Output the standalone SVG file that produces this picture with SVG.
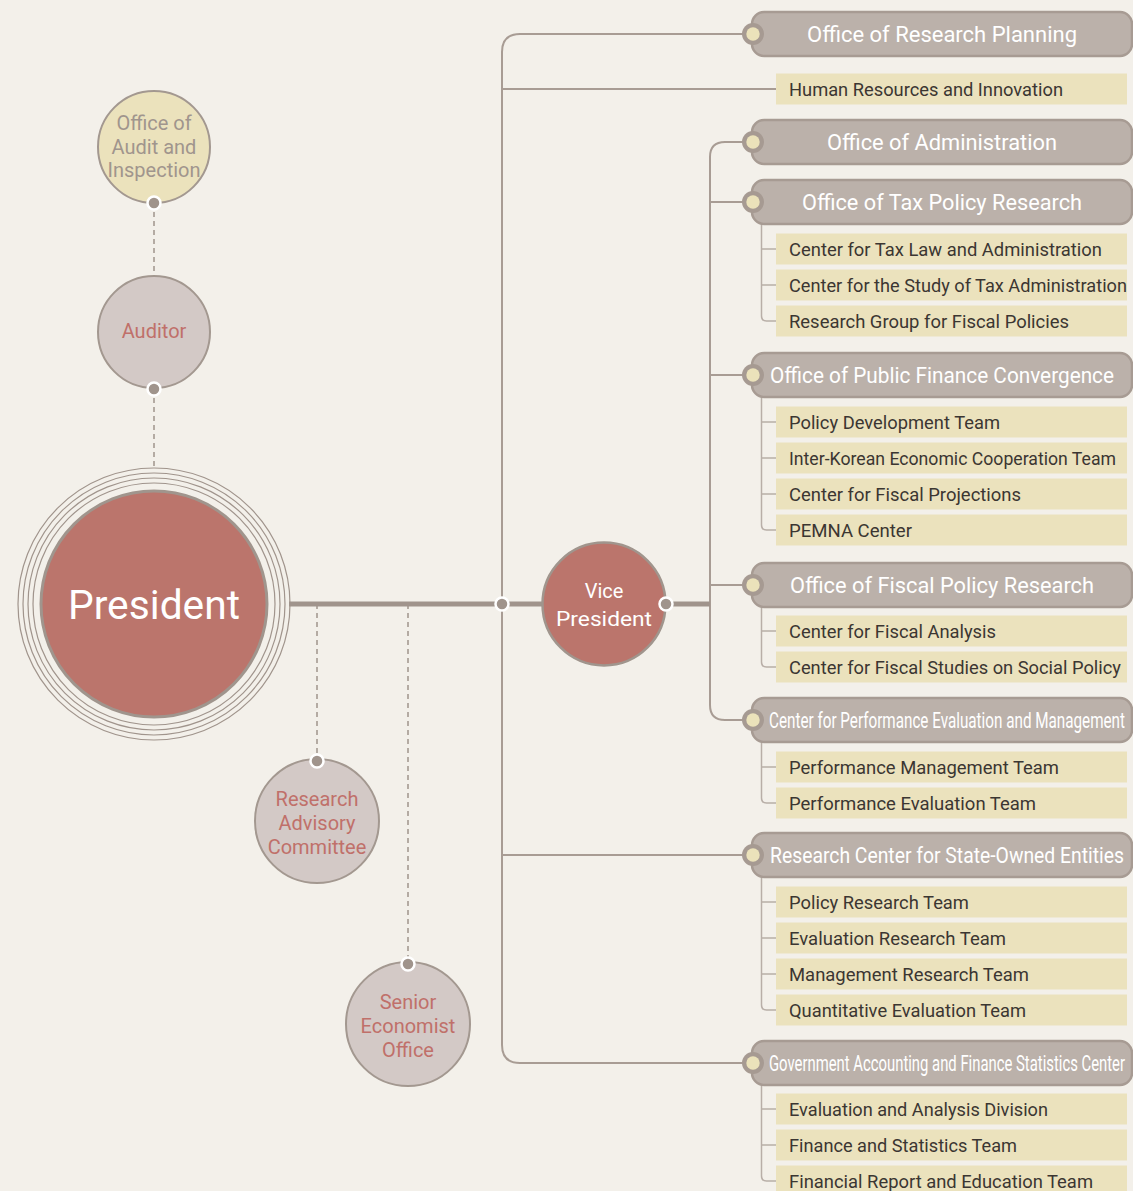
<svg xmlns="http://www.w3.org/2000/svg" width="1133" height="1191" viewBox="0 0 1133 1191">
<defs>
<style>
.bg{fill:#f3f0ea}
.hdr{fill:#bbb1aa;stroke:#a79b93;stroke-width:2.5}
.knobo{fill:#a69a92}
.knobi{fill:#ebe2ba}
.item{fill:#ebe2bd}
.ht{font-family:Roboto,"Noto Sans",sans-serif;font-size:22px;fill:#ffffff}
.it{font-family:Roboto,"Noto Sans",sans-serif;font-size:19px;fill:#3b3632}
.con{fill:none;stroke:#a89c94;stroke-width:2}
.sub{fill:none;stroke:#b8aea7;stroke-width:1.5}
.thick{fill:none;stroke:#a0948c;stroke-width:5}
.dash{fill:none;stroke:#a0948c;stroke-width:1.5;stroke-dasharray:5 4}
.dot{fill:#a0948c;stroke:#ffffff;stroke-width:2.5}
.ring{fill:none;stroke:#a0948c;stroke-width:1.2}
.ct{font-family:Roboto,"Noto Sans",sans-serif;font-size:20px;text-anchor:middle}
</style>
</defs>
<rect class="bg" x="0" y="0" width="1133" height="1191"/>

<g id="connectors">
<path class="dash" d="M154 203 V276"/>
<path class="dash" d="M154 389 V467"/>
<path class="dash" d="M317 604 V761"/>
<path class="dash" d="M408 604 V964"/>
<path class="con" d="M752 34 H520 Q502 34 502 52 V1045 Q502 1063 520 1063 H752"/>
<path class="con" d="M502 89 H776"/>
<path class="con" d="M502 855 H752"/>
<path class="con" d="M752 142 H725 Q710 142 710 157 V705 Q710 720 725 720 H752"/>
<path class="con" d="M710 202 H752"/>
<path class="con" d="M710 375 H752"/>
<path class="con" d="M710 585 H752"/>
<path class="thick" d="M289 604 H543"/>
<path class="thick" d="M666 604 H710"/>
<path class="sub" d="M761.5 224 V316 Q761.5 321 766.5 321 H776 M761.5 249 H776 M761.5 285 H776"/>
<path class="sub" d="M761.5 397 V525 Q761.5 530 766.5 530 H776 M761.5 422 H776 M761.5 458 H776 M761.5 494 H776"/>
<path class="sub" d="M761.5 607 V662 Q761.5 667 766.5 667 H776 M761.5 631 H776"/>
<path class="sub" d="M761.5 742 V798 Q761.5 803 766.5 803 H776 M761.5 767 H776"/>
<path class="sub" d="M761.5 877 V1005 Q761.5 1010 766.5 1010 H776 M761.5 902 H776 M761.5 938 H776 M761.5 974 H776"/>
<path class="sub" d="M761.5 1085 V1176 Q761.5 1181 766.5 1181 H776 M761.5 1109 H776 M761.5 1145 H776"/>
<circle class="dot" cx="502" cy="604" r="6.5"/>
</g>

<g id="president">
<circle class="ring" cx="154" cy="604" r="136"/>
<circle class="ring" cx="154" cy="604" r="131"/>
<circle class="ring" cx="154" cy="604" r="126"/>
<circle class="ring" cx="154" cy="604" r="121"/>
<circle cx="154" cy="604" r="113" fill="#bb756c" stroke="#a0958d" stroke-width="3"/>
<text x="154" y="619" font-family="Roboto,'Noto Sans',sans-serif" font-size="41" fill="#ffffff" text-anchor="middle" textLength="172" lengthAdjust="spacingAndGlyphs">President</text>
</g>

<g id="audit-office">
<circle cx="154" cy="147" r="56" fill="#ebe2bc" stroke="#a39890" stroke-width="2"/>
<text class="ct" fill="#a0958d"><tspan x="154" y="130">Office of</tspan><tspan x="154" y="154">Audit and</tspan><tspan x="154" y="177">Inspection</tspan></text>
<circle class="dot" cx="154" cy="203" r="6.5"/>
</g>

<g id="auditor">
<circle cx="154" cy="332" r="56" fill="#d3c9c6" stroke="#a39890" stroke-width="2"/>
<text class="ct" fill="#c0706a" x="154" y="338">Auditor</text>
<circle class="dot" cx="154" cy="389" r="6.5"/>
</g>

<g id="research-advisory">
<circle cx="317" cy="821" r="62" fill="#d3c9c6" stroke="#a39890" stroke-width="2"/>
<text class="ct" fill="#c0706a"><tspan x="317" y="806">Research</tspan><tspan x="317" y="830">Advisory</tspan><tspan x="317" y="854">Committee</tspan></text>
<circle class="dot" cx="317" cy="761" r="6.5"/>
</g>

<g id="senior-economist">
<circle cx="408" cy="1024" r="62" fill="#d3c9c6" stroke="#a39890" stroke-width="2"/>
<text class="ct" fill="#c0706a"><tspan x="408" y="1009">Senior</tspan><tspan x="408" y="1033">Economist</tspan><tspan x="408" y="1057">Office</tspan></text>
<circle class="dot" cx="408" cy="964" r="6.5"/>
</g>

<g id="vice-president">
<circle cx="604" cy="604" r="61.5" fill="#bb756c" stroke="#a0958d" stroke-width="2.5"/>
<text class="ct" fill="#ffffff" font-size="23"><tspan x="604" y="598">Vice</tspan></text>
<text class="ct" fill="#ffffff" font-size="23" x="604" y="626" textLength="96" lengthAdjust="spacingAndGlyphs">President</text>
<circle class="dot" cx="666" cy="604" r="6.5"/>
</g>

<g id="research-planning">
<rect class="hdr" x="752" y="12" width="380" height="44" rx="12"/>
<circle class="knobo" cx="753" cy="34" r="11"/><circle class="knobi" cx="753" cy="34" r="6.7"/>
<text class="ht" x="807" y="42" textLength="270" lengthAdjust="spacingAndGlyphs">Office of Research Planning</text>
</g>
<g id="hr-innovation">
<rect class="item" x="776" y="73.5" width="351" height="31"/>
<text class="it" x="789" y="96" textLength="274" lengthAdjust="spacingAndGlyphs">Human Resources and Innovation</text>
</g>

<g id="administration">
<rect class="hdr" x="752" y="120" width="380" height="44" rx="12"/>
<circle class="knobo" cx="753" cy="142" r="11"/><circle class="knobi" cx="753" cy="142" r="6.7"/>
<text class="ht" x="827" y="150" textLength="230" lengthAdjust="spacingAndGlyphs">Office of Administration</text>
</g>

<g id="tax-policy">
<rect class="hdr" x="752" y="180" width="380" height="44" rx="12"/>
<circle class="knobo" cx="753" cy="202" r="11"/><circle class="knobi" cx="753" cy="202" r="6.7"/>
<text class="ht" x="802" y="210" textLength="280" lengthAdjust="spacingAndGlyphs">Office of Tax Policy Research</text>
<rect class="item" x="776" y="233.5" width="351" height="31"/>
<text class="it" x="789" y="256" textLength="313" lengthAdjust="spacingAndGlyphs">Center for Tax Law and Administration</text>
<rect class="item" x="776" y="269.5" width="351" height="31"/>
<text class="it" x="789" y="292" textLength="338" lengthAdjust="spacingAndGlyphs">Center for the Study of Tax Administration</text>
<rect class="item" x="776" y="305.5" width="351" height="31"/>
<text class="it" x="789" y="328" textLength="280" lengthAdjust="spacingAndGlyphs">Research Group for Fiscal Policies</text>
</g>

<g id="public-finance">
<rect class="hdr" x="752" y="353" width="380" height="44" rx="12"/>
<circle class="knobo" cx="753" cy="375" r="11"/><circle class="knobi" cx="753" cy="375" r="6.7"/>
<text class="ht" x="770" y="383" textLength="344" lengthAdjust="spacingAndGlyphs">Office of Public Finance Convergence</text>
<rect class="item" x="776" y="406.5" width="351" height="31"/>
<text class="it" x="789" y="429" textLength="211" lengthAdjust="spacingAndGlyphs">Policy Development Team</text>
<rect class="item" x="776" y="442.5" width="351" height="31"/>
<text class="it" x="789" y="465" textLength="327" lengthAdjust="spacingAndGlyphs">Inter-Korean Economic Cooperation Team</text>
<rect class="item" x="776" y="478.5" width="351" height="31"/>
<text class="it" x="789" y="501" textLength="232" lengthAdjust="spacingAndGlyphs">Center for Fiscal Projections</text>
<rect class="item" x="776" y="514.5" width="351" height="31"/>
<text class="it" x="789" y="537" textLength="123" lengthAdjust="spacingAndGlyphs">PEMNA Center</text>
</g>

<g id="fiscal-policy">
<rect class="hdr" x="752" y="563" width="380" height="44" rx="12"/>
<circle class="knobo" cx="753" cy="585" r="11"/><circle class="knobi" cx="753" cy="585" r="6.7"/>
<text class="ht" x="790" y="593" textLength="304" lengthAdjust="spacingAndGlyphs">Office of Fiscal Policy Research</text>
<rect class="item" x="776" y="615.5" width="351" height="31"/>
<text class="it" x="789" y="638" textLength="207" lengthAdjust="spacingAndGlyphs">Center for Fiscal Analysis</text>
<rect class="item" x="776" y="651.5" width="351" height="31"/>
<text class="it" x="789" y="674" textLength="332" lengthAdjust="spacingAndGlyphs">Center for Fiscal Studies on Social Policy</text>
</g>

<g id="performance-evaluation">
<rect class="hdr" x="752" y="698" width="380" height="44" rx="12"/>
<circle class="knobo" cx="753" cy="720" r="11"/><circle class="knobi" cx="753" cy="720" r="6.7"/>
<text class="ht" x="769" y="728" textLength="356" lengthAdjust="spacingAndGlyphs">Center for Performance Evaluation and Management</text>
<rect class="item" x="776" y="751.5" width="351" height="31"/>
<text class="it" x="789" y="774" textLength="270" lengthAdjust="spacingAndGlyphs">Performance Management Team</text>
<rect class="item" x="776" y="787.5" width="351" height="31"/>
<text class="it" x="789" y="810" textLength="247" lengthAdjust="spacingAndGlyphs">Performance Evaluation Team</text>
</g>

<g id="state-owned">
<rect class="hdr" x="752" y="833" width="380" height="44" rx="12"/>
<circle class="knobo" cx="753" cy="855" r="11"/><circle class="knobi" cx="753" cy="855" r="6.7"/>
<text class="ht" x="770" y="863" textLength="354" lengthAdjust="spacingAndGlyphs">Research Center for State-Owned Entities</text>
<rect class="item" x="776" y="886.5" width="351" height="31"/>
<text class="it" x="789" y="909" textLength="180" lengthAdjust="spacingAndGlyphs">Policy Research Team</text>
<rect class="item" x="776" y="922.5" width="351" height="31"/>
<text class="it" x="789" y="945" textLength="217" lengthAdjust="spacingAndGlyphs">Evaluation Research Team</text>
<rect class="item" x="776" y="958.5" width="351" height="31"/>
<text class="it" x="789" y="981" textLength="240" lengthAdjust="spacingAndGlyphs">Management Research Team</text>
<rect class="item" x="776" y="994.5" width="351" height="31"/>
<text class="it" x="789" y="1017" textLength="237" lengthAdjust="spacingAndGlyphs">Quantitative Evaluation Team</text>
</g>

<g id="gov-accounting">
<rect class="hdr" x="752" y="1041" width="380" height="44" rx="12"/>
<circle class="knobo" cx="753" cy="1063" r="11"/><circle class="knobi" cx="753" cy="1063" r="6.7"/>
<text class="ht" x="769" y="1071" textLength="356" lengthAdjust="spacingAndGlyphs">Government Accounting and Finance Statistics Center</text>
<rect class="item" x="776" y="1093.5" width="351" height="31"/>
<text class="it" x="789" y="1116" textLength="259" lengthAdjust="spacingAndGlyphs">Evaluation and Analysis Division</text>
<rect class="item" x="776" y="1129.5" width="351" height="31"/>
<text class="it" x="789" y="1152" textLength="228" lengthAdjust="spacingAndGlyphs">Finance and Statistics Team</text>
<rect class="item" x="776" y="1165.5" width="351" height="31"/>
<text class="it" x="789" y="1188" textLength="304" lengthAdjust="spacingAndGlyphs">Financial Report and Education Team</text>
</g>
</svg>
